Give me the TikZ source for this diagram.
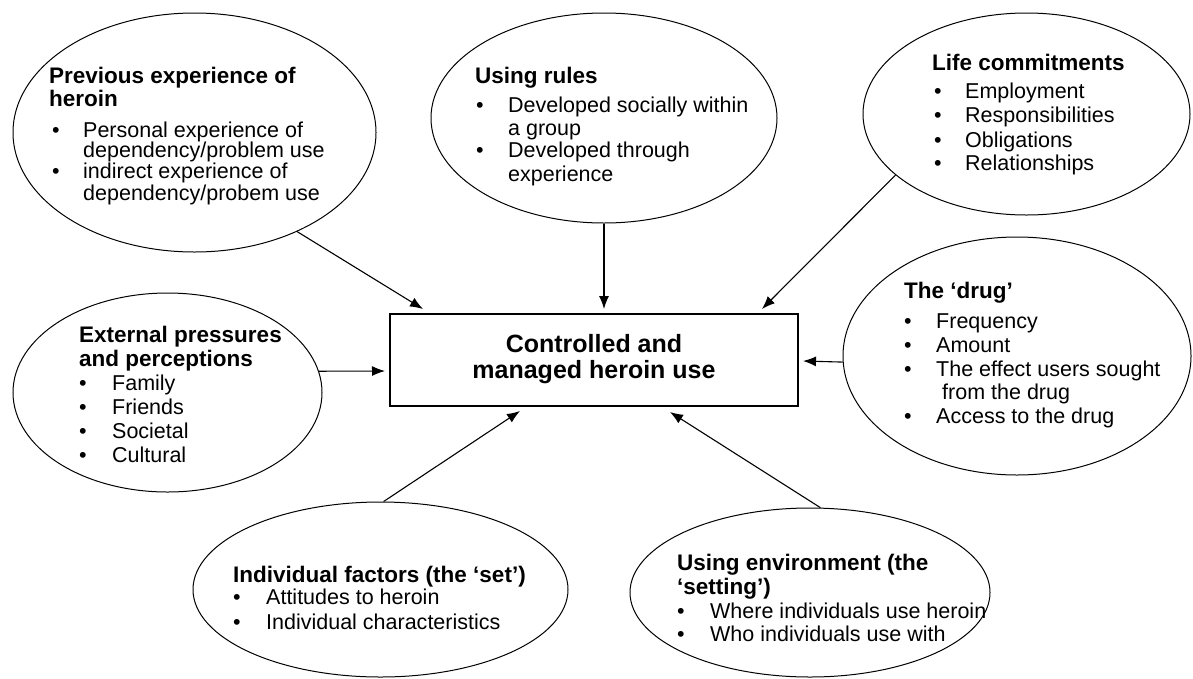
\documentclass[tikz,border=0pt]{standalone}
\usepackage{fontspec}
\setmainfont{Liberation Sans}
\usetikzlibrary{arrows.meta,shapes.geometric}
\tikzset{
 ell/.style={draw, ellipse, line width=1pt, inner sep=0pt},
 mainbox/.style={draw, rectangle, line width=1.3pt, inner sep=0pt, minimum width=408pt, minimum height=92pt},
 ttl/.style={anchor=base west, inner sep=0pt, font=\fontsize{22.5}{24}\selectfont\bfseries},
 btxt/.style={anchor=base west, inner sep=0pt, font=\fontsize{21.5}{24}\selectfont},
 boxtxt/.style={anchor=base, inner sep=0pt, font=\fontsize{25}{26}\selectfont\bfseries},
 arr/.style={-{Latex[length=13pt,width=10pt]}, line width=1.1pt},
}
\newcommand\bitem[5]{\node[btxt] (#1) at (#2,#3) {\makebox[#4pt][l]{•}#5};}
\begin{document}
\begin{tikzpicture}[x=1pt,y=-1pt]
\useasboundingbox (0,0) rectangle (1193,678);

% ellipses
\node[ell, minimum width=363pt, minimum height=239pt] (e1) at (194.5,132.5) {};
\node[ell, minimum width=346pt, minimum height=210pt] (e2) at (604,118) {};
\node[ell, minimum width=327pt, minimum height=202pt] (e3) at (1026.5,114) {};
\node[ell, minimum width=309pt, minimum height=199pt] (e4) at (167.5,392.5) {};
\node[ell, minimum width=348pt, minimum height=238pt] (e5) at (1017,356) {};
\node[ell, minimum width=375pt, minimum height=175pt] (e6) at (380.5,589.5) {};
\node[ell, minimum width=360pt, minimum height=169pt] (e7) at (810,592.5) {};

% central box
\node[mainbox] (box) at (594,360) {};
\node[boxtxt] (bx1) at (594,352) {Controlled and};
\node[boxtxt] (bx2) at (594,378) {managed heroin use};

% block 1
\node[ttl] (p1) at (49,83) {Previous experience of};
\node[ttl] (p2) at (49,106) {heroin};
\bitem{p3}{52}{137}{31}{Personal experience of}
\node[btxt] (p4) at (83,157) {dependency/problem use};
\bitem{p5}{52}{178}{31}{indirect experience of}
\node[btxt] (p6) at (83,200) {dependency/probem use};

% block 2
\node[ttl] (r1) at (475,83) {Using rules};
\bitem{r2}{476}{112}{32}{Developed socially within}
\node[btxt] (r3) at (508,135) {a group};
\bitem{r4}{476}{157}{32}{Developed through}
\node[btxt] (r5) at (508,181) {experience};

% block 3
\node[ttl] (l1) at (932,70) {Life commitments};
\bitem{l2}{934}{98}{31}{Employment}
\bitem{l3}{934}{122}{31}{Responsibilities}
\bitem{l4}{934}{147}{31}{Obligations}
\bitem{l5}{934}{170}{31}{Relationships}

% block 4
\node[ttl] (x1) at (79,342) {External pressures};
\node[ttl] (x2) at (79,366) {and perceptions};
\bitem{x3}{79}{390}{33}{Family}
\bitem{x4}{79}{414}{33}{Friends}
\bitem{x5}{79}{438}{33}{Societal}
\bitem{x6}{79}{462}{33}{Cultural}

% block 5
\node[ttl] (d1) at (904,298) {The ‘drug’};
\bitem{d2}{904}{328}{32}{Frequency}
\bitem{d3}{904}{352}{32}{Amount}
\bitem{d4}{904}{376}{32}{The effect users sought}
\node[btxt] (d5) at (942,399) {from the drug};
\bitem{d6}{904}{423}{32}{Access to the drug}

% block 6
\node[ttl] (i1) at (233,582) {Individual factors (the ‘set’)};
\bitem{i2}{233}{604}{33}{Attitudes to heroin}
\bitem{i3}{233}{629}{33}{Individual characteristics}

% block 7
\node[ttl] (s1) at (677,570) {Using environment (the};
\node[ttl] (s2) at (677,594) {‘setting’)};
\bitem{s3}{677}{618}{33}{Where individuals use heroin}
\bitem{s4}{677}{641}{33}{Who individuals use with}

% arrow tips
\coordinate (t1) at (423,309);
\coordinate (t2) at (604,309);
\coordinate (t3) at (762,309);
\coordinate (t4) at (385,371);
\coordinate (t5) at (803,361);
\coordinate (t6) at (520,411);
\coordinate (t7) at (670,412);

\draw[arr] (e1.316) -- (t1);
\draw[arr] (e2.south) -- (t2);
\draw[arr] (e3.205) -- (t3);
\draw[arr] (e4.8) -- (t4);
\draw[arr] (e5.182) -- (t5);
\draw[arr] (e6.88) -- (t6);
\draw[arr] (e7.83) -- (t7);
\end{tikzpicture}
\end{document}
